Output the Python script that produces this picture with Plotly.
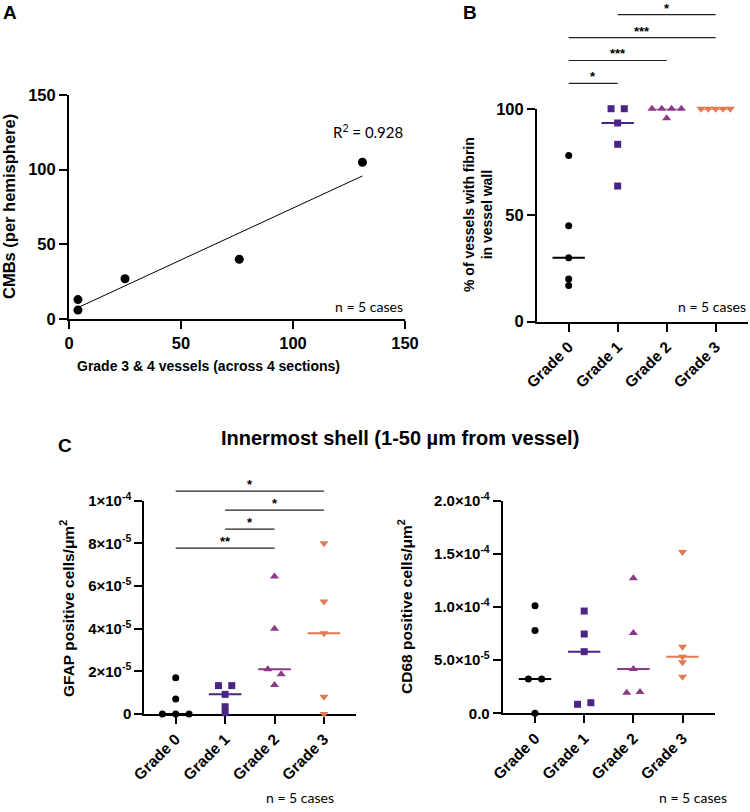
import numpy as np
import plotly.graph_objects as go

# ---------------- data ----------------
# Panel A
a_vessels = [4, 4, 25, 76, 131]
a_cmbs = [6, 13, 27, 40, 105]

grades = ["Grade 0", "Grade 1", "Grade 2", "Grade 3"]

# Panel B: % of vessels with fibrin in vessel wall
fibrin_g0 = [78, 45, 30, 20, 17]
fibrin_g1 = [100, 100, 93.3, 83.3, 63.7]
fibrin_g2 = [100, 100, 100, 100, 95.5]
fibrin_g3 = [100, 100, 100, 100, 100]
fibrin_sig = [(0, 1, "*"), (0, 2, "***"), (0, 3, "***"), (1, 3, "*")]

# Panel C left: GFAP positive cells / um^2
gfap_g0 = [0, 0, 0, 7.0e-6, 1.7e-5]
gfap_g1 = [1.33e-5, 1.33e-5, 9.2e-6, 3.4e-6, 0.6e-6]
gfap_g2 = [6.44e-5, 4.0e-5, 2.1e-5, 1.86e-5, 1.36e-5]
gfap_g3 = [8.0e-5, 5.27e-5, 3.78e-5, 0.81e-5, 0]
gfap_sig = [(0, 2, "**"), (1, 2, "*"), (1, 3, "*"), (0, 3, "*")]
gfap_ticks = [0, 2e-5, 4e-5, 6e-5, 8e-5, 1e-4]
gfap_ticktext = ["0", "2×10<sup>-5</sup>", "4×10<sup>-5</sup>", "6×10<sup>-5</sup>",
                 "8×10<sup>-5</sup>", "1×10<sup>-4</sup>"]

# Panel C right: CD68 positive cells / um^2
cd68_g0 = [1.012e-4, 7.8e-5, 3.23e-5, 3.23e-5, 0]
cd68_g1 = [9.62e-5, 7.46e-5, 5.8e-5, 0.85e-5, 1.0e-5]
cd68_g2 = [1.27e-4, 7.56e-5, 4.17e-5, 1.94e-5, 2.0e-5]
cd68_g3 = [1.518e-4, 6.27e-5, 5.33e-5, 4.8e-5, 3.45e-5]
cd68_ticks = [0, 5e-5, 1e-4, 1.5e-4, 2e-4]
cd68_ticktext = ["0.0", "5.0×10<sup>-5</sup>", "1.0×10<sup>-4</sup>",
                 "1.5×10<sup>-4</sup>", "2.0×10<sup>-4</sup>"]

a_ticks = [0, 50, 100, 150]
b_ticks = [0, 50, 100]

# ---------------- style ----------------
FONT = "Liberation Sans"
LIGHT = "Lato"
colors = ["#000000", "#4a2585", "#8c3a88", "#e27a52"]
symbols = ["circle", "square", "triangle-up", "triangle-down"]
msizes = [7, 7, 8, 8]

fig = go.Figure()


def swarm_offsets(vals, yrange, thr=0.025):
    vals = np.asarray(vals, float)
    span = yrange[1] - yrange[0]
    order = np.argsort(vals, kind="stable")
    clusters, cur = [], [order[0]]
    for a, b in zip(order[:-1], order[1:]):
        if (vals[b] - vals[a]) / span < thr:
            cur.append(b)
        else:
            clusters.append(cur)
            cur = [b]
    clusters.append(cur)
    off = np.zeros(len(vals))
    for c in clusters:
        k = len(c)
        if k > 1:
            sp = min(0.27, 0.6 / (k - 1))
            for r, idx in enumerate(sorted(c)):
                off[idx] = (r - (k - 1) / 2) * sp
    return off


def add_group_panel(groups, xa, ya, yrange):
    for gi, vals in enumerate(groups):
        off = swarm_offsets(vals, yrange)
        fig.add_trace(go.Scatter(
            x=gi + off, y=vals, mode="markers", xaxis=xa, yaxis=ya,
            marker=dict(symbol=symbols[gi], size=msizes[gi], color=colors[gi]),
            cliponaxis=False, showlegend=False, hoverinfo="y"))
        med = float(np.median(vals))
        fig.add_trace(go.Scatter(
            x=[gi - 0.33, gi + 0.33], y=[med, med], mode="lines", xaxis=xa, yaxis=ya,
            line=dict(color=colors[gi], width=2), showlegend=False, hoverinfo="skip"))


def add_sig(sig, xa, ya, yrange, base, step):
    for k, (i, j, label) in enumerate(sig):
        level = base + k * step
        f = (level - yrange[0]) / (yrange[1] - yrange[0])
        fig.add_shape(type="line", xref=xa, yref=ya + " domain", x0=i, x1=j, y0=f, y1=f,
                      line=dict(color="#222222", width=1.2))
        fig.add_annotation(xref=xa, yref=ya + " domain", x=(i + j) / 2, y=f, text="<b>" + label + "</b>",
                           showarrow=False, yanchor="bottom", yshift=-3,
                           font=dict(family=FONT, size=13, color="#000"))


# ---------------- Panel A ----------------
fig.add_trace(go.Scatter(x=a_vessels, y=a_cmbs, mode="markers", xaxis="x", yaxis="y",
                         marker=dict(size=9, color="black"), cliponaxis=False,
                         showlegend=False))
slope, icpt = np.polyfit(a_vessels, a_cmbs, 1)
xs = np.array([min(a_vessels), max(a_vessels)], float)
fig.add_trace(go.Scatter(x=xs, y=slope * xs + icpt, mode="lines", xaxis="x", yaxis="y",
                         line=dict(color="black", width=1), showlegend=False))
r2 = np.corrcoef(a_vessels, a_cmbs)[0, 1] ** 2

# ---------------- Panel B ----------------
yB = [0, 100]
add_group_panel([fibrin_g0, fibrin_g1, fibrin_g2, fibrin_g3], "x2", "y2", yB)
add_sig(fibrin_sig, "x2", "y2", yB, 111.9, 10.75)

# ---------------- Panel C ----------------
yC1 = [0, 1e-4]
add_group_panel([gfap_g0, gfap_g1, gfap_g2, gfap_g3], "x3", "y3", yC1)
add_sig(gfap_sig, "x3", "y3", yC1, 7.78e-5, 0.89e-5)

yC2 = [0, 2e-4]
add_group_panel([cd68_g0, cd68_g1, cd68_g2, cd68_g3], "x4", "y4", yC2)

# ---------------- axes ----------------
axis_common = dict(showline=True, linecolor="black", linewidth=2, ticks="outside",
                   ticklen=8, tickwidth=2, tickcolor="black", showgrid=False,
                   zeroline=False, layer="below traces", automargin=False)
num_font = dict(family=FONT, size=16.5, color="black")
cat_font = dict(family=FONT, size=15.5, color="black")
sci_font = dict(family=FONT, size=15, color="black")


def bold(lst):
    return ["<b>%s</b>" % s for s in lst]


def cat_axis(domain, rng, anchor):
    return dict(axis_common, domain=domain, range=rng, anchor=anchor, tickmode="array",
                tickvals=[0, 1, 2, 3], ticktext=bold(grades), tickangle=-45, tickfont=cat_font)


fig.update_layout(
    width=750, height=812, margin=dict(l=0, r=0, t=0, b=0, autoexpand=False),
    paper_bgcolor="white", plot_bgcolor="white",
    xaxis=dict(axis_common, domain=[0.092, 0.54], range=[0, 150], anchor="y",
               tickmode="array", tickvals=a_ticks, ticktext=bold(a_ticks), tickfont=num_font),
    yaxis=dict(axis_common, domain=[0.6071, 0.8830], range=[0, 150], anchor="x",
               tickmode="array", tickvals=a_ticks, ticktext=bold(a_ticks), tickfont=num_font),
    xaxis2=cat_axis([0.716, 0.9973], [-0.647, 3.66], "y2"),
    yaxis2=dict(axis_common, domain=[0.6038, 0.8661], range=yB, anchor="x2",
                tickmode="array", tickvals=b_ticks, ticktext=bold(b_ticks), tickfont=num_font),
    xaxis3=cat_axis([0.1924, 0.4747], [-0.636, 3.65], "y3"),
    yaxis3=dict(axis_common, domain=[0.1207, 0.3834], range=yC1, anchor="x3",
                tickmode="array", tickvals=gfap_ticks, ticktext=bold(gfap_ticktext), tickfont=sci_font),
    xaxis4=cat_axis([0.6703, 0.9533], [-0.657, 3.66], "y4"),
    yaxis4=dict(axis_common, domain=[0.1215, 0.3834], range=yC2, anchor="x4",
                tickmode="array", tickvals=cd68_ticks, ticktext=bold(cd68_ticktext), tickfont=sci_font),
)


def txt(x, y, text, size, bold=True, family=FONT, angle=0, xanchor="center", yanchor="middle"):
    fig.add_annotation(xref="paper", yref="paper", x=x / 750, y=1 - y / 812, text=text,
                       showarrow=False, textangle=angle, xanchor=xanchor, yanchor=yanchor,
                       font=dict(family=family, size=size, color="black",
                                 weight="bold" if bold else "normal"))


# panel letters
txt(1, 0, "A", 19, xanchor="left", yanchor="top")
txt(461, 0, "B", 19, xanchor="left", yanchor="top")
txt(56, 433, "C", 19, xanchor="left", yanchor="top")
txt(400, 438, "Innermost shell (1-50 µm from vessel)", 20)

# axis titles
txt(9, 207, "CMBs (per hemisphere)", 16.5, angle=-90)
txt(208, 366, "Grade 3 &amp; 4 vessels (across 4 sections)", 14)
txt(478, 215, "% of vessels with fibrin<br>in vessel wall", 14, angle=-90)
txt(67, 609, "GFAP positive cells/μm<sup>2</sup>", 15.5, angle=-90)
txt(405, 607, "CD68 positive cells/μm<sup>2</sup>", 15.5, angle=-90)

# annotations
txt(405, 131, "R<sup>2</sup> = %.3f" % r2, 15, bold=False, family=LIGHT, xanchor="right")
txt(405, 306, "n = 5 cases", 14, bold=False, family=LIGHT, xanchor="right")
txt(748, 306, "n = 5 cases", 14, bold=False, family=LIGHT, xanchor="right")
txt(300, 797, "n = 5 cases", 14, bold=False, family=LIGHT)
txt(693, 797, "n = 5 cases", 14, bold=False, family=LIGHT)

fig.write_html(
    "out.html",
    config={"displayModeBar": False},
    post_script="document.body.style.margin='0';document.body.style.padding='0';"
                "document.body.style.overflow='hidden';",
)
